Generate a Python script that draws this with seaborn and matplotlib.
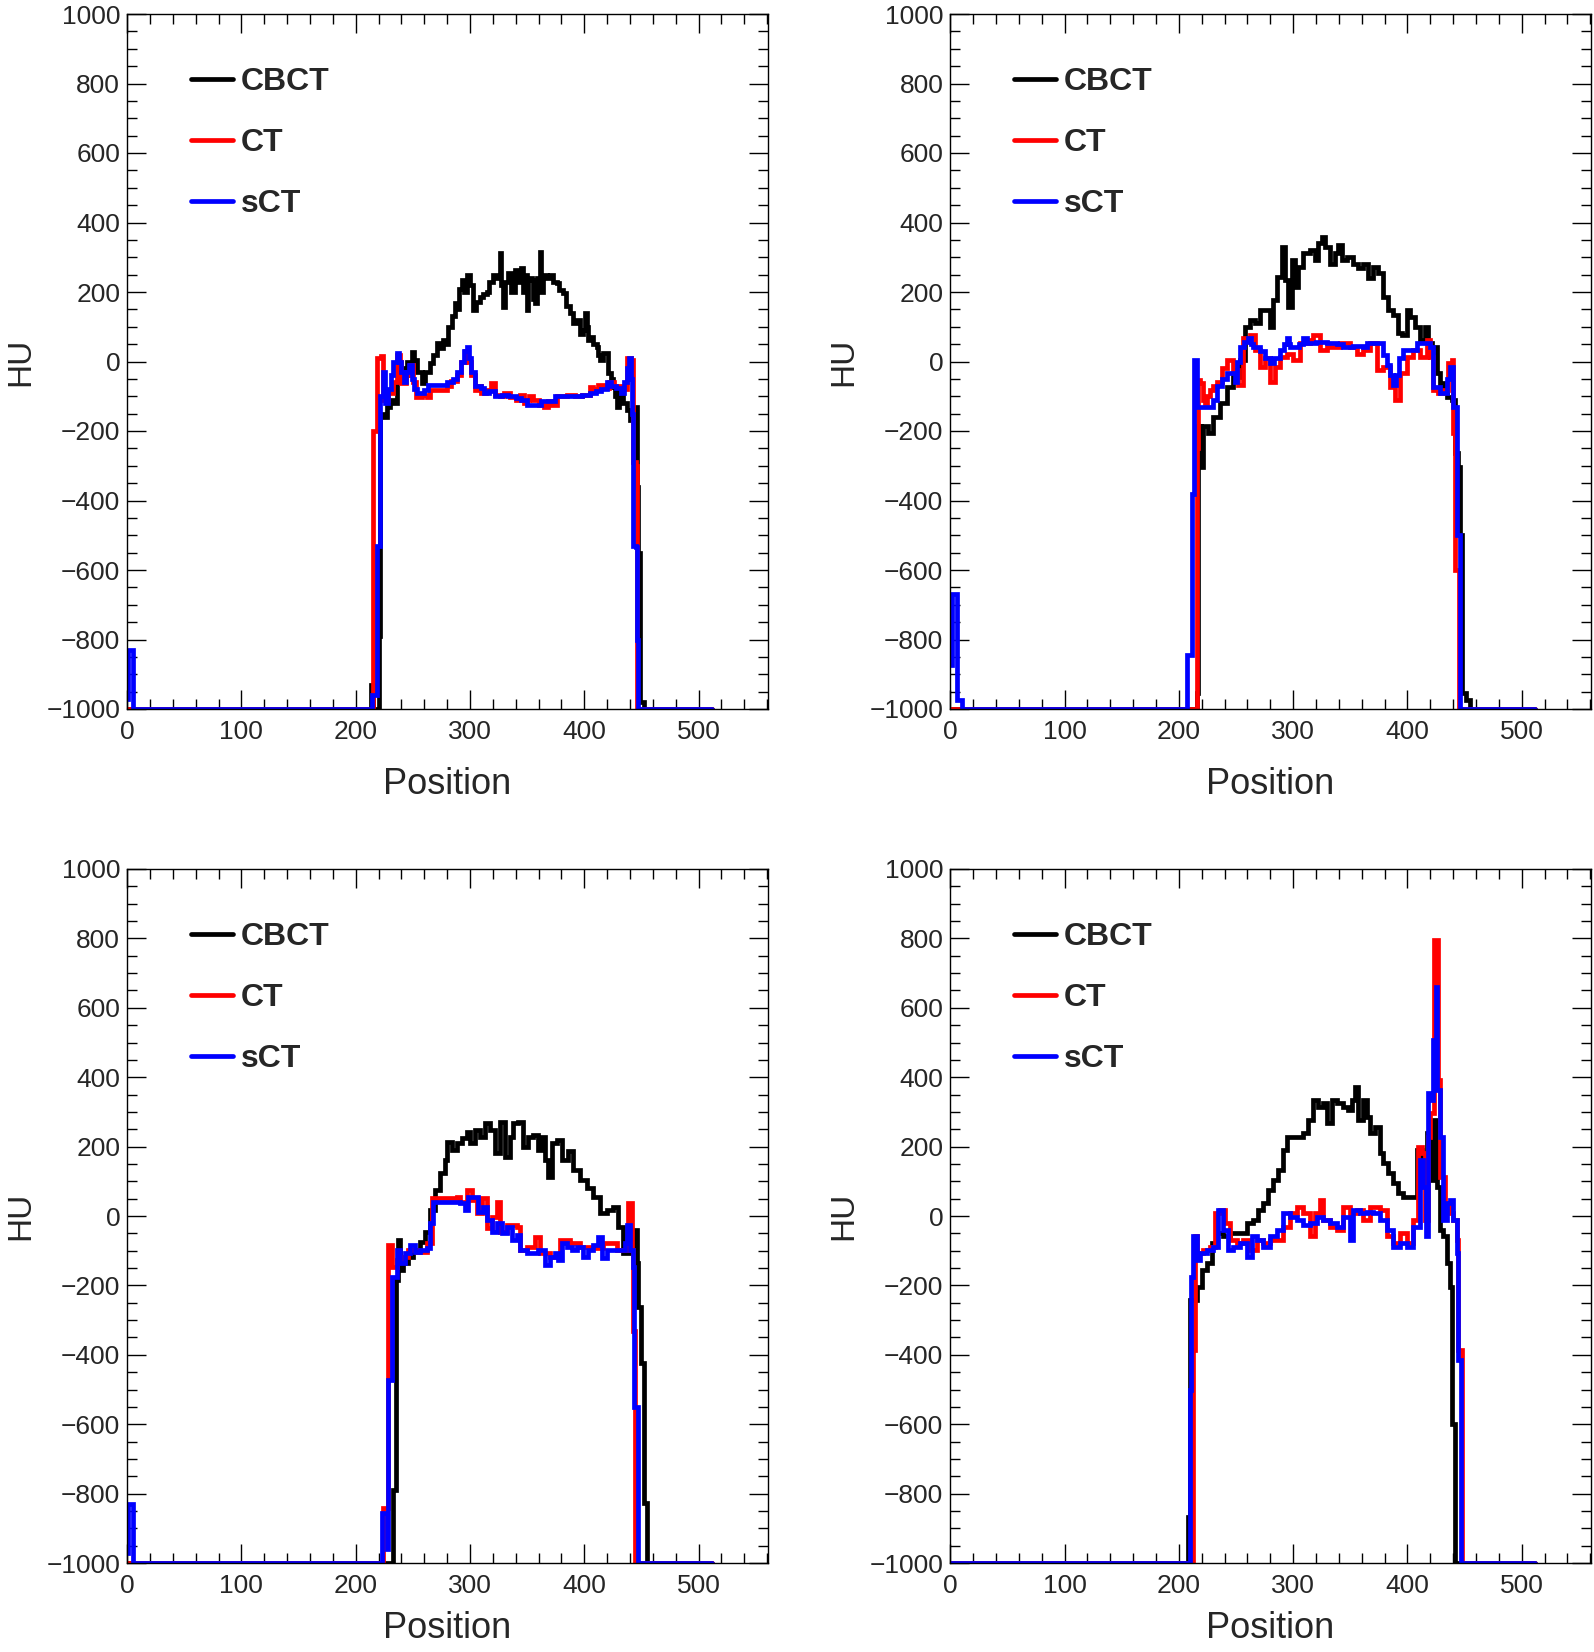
import matplotlib
matplotlib.use("Agg")
import matplotlib.pyplot as plt
import numpy as np
import pandas as pd
import seaborn as sns
from matplotlib.ticker import MultipleLocator

# ---- data: (position, HU) step points ----
TL_CBCT = [(0, -1000), (213.5, -930), (215, -1000), (220.5, -790), (221.5, -150), (224.2, -160),
           (227, -130), (230, -111), (233, -120), (235.8, -60), (238, -20), (241.7, -40), (245, 0),
           (249, 28), (251, 5), (253.3, -30), (257.7, -63), (261, -30), (265, -3), (268, 20),
           (270.8, 52), (274, 40), (276.7, 62), (279, 50), (281, 100), (284, 130), (286.9, 167),
           (289, 150), (290.5, 210), (292.7, 234), (295, 200), (297.1, 249), (300, 220),
           (302.9, 148), (305, 170), (308.7, 187), (311, 195), (314.6, 201), (317, 230),
           (320.4, 249), (323, 240), (326.2, 311), (327.5, 220), (329.2, 158), (331, 230),
           (333.5, 254), (336, 200), (339.4, 263), (341, 230), (343.7, 234), (345, 268),
           (346.6, 200), (348, 250), (349.6, 148), (351, 240), (353.9, 234), (355, 180),
           (356.9, 167), (359, 240), (361.2, 316), (362.5, 200), (364.1, 250), (367, 240),
           (370, 249), (373, 230), (375.8, 225), (378, 205), (381.6, 196), (384, 160),
           (387.5, 139), (390, 110), (393.3, 120), (396, 80), (399.1, 91), (400.5, 139),
           (402, 100), (403.5, 62), (405, 70), (408, 50), (410.8, 43), (412, 20), (413.7, 4),
           (416, 24), (418.1, 24), (421, -34), (423, -50), (425.4, -72), (427, -100),
           (428.3, -130), (430, -80), (431.2, -92), (434, -120), (437, -140), (440, -168),
           (442.9, -130), (445.8, -360), (447.3, -550), (448.5, -980), (452, -1000), (512, -1000)]
TL_CT = [(0, -1000), (215.4, -200), (218.3, 10), (222, 15), (224.2, -111), (228, -90), (233, -60),
         (236, 20), (238.5, 0), (240, -63), (244, -40), (247.5, -10), (250, -60), (253, -101),
         (258, -95), (262, -101), (265, -82), (280, -70), (283, -55), (289, -40), (292, 0),
         (295.6, 30), (298, 0), (300.5, -40), (304, -82), (308, -70), (310, -90), (314, -82),
         (318, -63), (322, -95), (326, -100), (330, -92), (335, -101), (340, -111), (344, -95),
         (347, -120), (350, -110), (352, -100), (355, -110), (360, -125), (365, -130),
         (368, -115), (372, -125), (376, -100), (385, -96), (392, -100), (398, -95), (405, -72),
         (408, -80), (412, -67), (417, -75), (422, -60), (426, -70), (430, -70), (434, -80),
         (437, 10), (441, 5), (443, -290), (445, -300), (446.5, -1000), (512, -1000)]
TL_SCT = [(0, -970), (1, -830), (5, -1000), (214, -960), (218.5, -530), (221.5, -100), (224, -30),
          (226, -120), (228, -80), (231, -40), (233, 0), (235.8, 25), (238, 0), (240, -30),
          (242, -60), (244, -30), (246.5, -10), (249, -50), (251, -80), (254, -90), (260, -82),
          (263, -67), (280, -60), (285, -50), (289, -30), (292, 0), (295, 30), (297, 43),
          (299, 10), (301, -30), (304, -70), (310, -75), (312, -90), (317, -85), (322, -100),
          (328, -95), (333, -100), (340, -105), (345, -110), (350, -125), (357, -125),
          (362, -115), (370, -115), (374, -100), (380, -100), (390, -100), (398, -95),
          (405, -90), (410, -85), (415, -80), (420, -60), (423, -70), (428, -75), (432, -90),
          (435, -60), (437, -20), (439, 10), (441, -50), (442, -150), (443, -530), (445, -533),
          (446, -800), (447, -1000), (512, -1000)]

TR_CBCT = [(0, -1000), (215.5, -955), (217, -187), (219, -303), (221.4, -187), (225.7, -207),
           (230.1, -159), (236, -120), (241.8, -72), (247.6, -44), (253.4, 4), (257.8, 100),
           (262.2, 119), (266.6, 110), (270.9, 148), (276.8, 148), (279.7, 100), (282.6, 177),
           (285.5, 244), (289.9, 330), (292.8, 234), (295.7, 158), (298.6, 292), (301.6, 215),
           (304.5, 273), (308.9, 311), (314.7, 321), (319.1, 292), (322, 340), (324.9, 359),
           (327.8, 330), (332.2, 282), (336.6, 311), (339.5, 335), (342.4, 292), (346.8, 302),
           (352.6, 282), (357, 268), (361.3, 282), (365.7, 239), (370.1, 273), (374.5, 254),
           (378.8, 186), (383.2, 148), (387.6, 134), (392, 81), (394.9, 76), (399.3, 148),
           (402.2, 129), (406.5, 100), (410.9, 62), (415.3, 100), (418.2, 52), (421.1, 43),
           (425.5, -34), (428.4, -72), (431.3, -63), (434.3, -101), (438.6, -111), (441.5, -264),
           (444.5, -303), (446, -500), (448, -955), (451, -974), (455, -1000), (512, -1000)]
TR_CT = [(0, -1000), (215.5, -250), (217, -53), (218.4, -63), (221.4, -111), (222.8, -120),
         (225, -100), (227.2, -82), (230, -70), (233, -58), (238, -20), (241.8, 4), (247.6, -25),
         (252, -68), (256.4, 67), (262.2, 76), (266.6, 33), (270.9, -15), (275.3, 9),
         (279.7, -58), (284.1, -15), (288.4, 14), (294.3, 23), (300.1, 4), (305.9, 52),
         (314.7, 62), (317.6, 76), (323.4, 33), (329.3, 43), (341, 52), (349.7, 43),
         (355.5, 23), (361.3, 33), (367.2, 52), (373, -25), (378.8, -15), (384.7, -72),
         (389, -111), (393.4, -34), (399.3, 14), (405.1, 33), (410.9, 14), (416.8, 62),
         (419.7, 14), (422.6, -82), (427, -91), (431.3, -82), (435.7, -5), (438.6, 4),
         (440.1, -207), (442, -600), (445, -1000), (512, -1000)]
TR_SCT = [(0, -873), (1.5, -670), (5.5, -975), (10, -1000), (206.8, -844), (211.5, -380),
          (213.5, 4), (215.5, -130), (230, -111), (233, -70), (238, -50), (241.8, -34),
          (249, -58), (251, 0), (253.4, 43), (257, 55), (260.7, 67), (263, 50), (265.1, 43),
          (271, 30), (275, 10), (279.7, -5), (283, 10), (288.4, 33), (292, 50), (294.3, 67),
          (296, 50), (297.2, 43), (305, 50), (308.9, 67), (311.8, 52), (320, 55), (330, 52),
          (338, 50), (344, 43), (352, 45), (361.3, 43), (364.3, 52), (376, 52), (379, 20),
          (382, -10), (385, -40), (387.6, -68), (390, -40), (393, 10), (396.3, 33), (405.1, 33),
          (408, 52), (416.8, 52), (419.7, 43), (422.6, -72), (428.4, -91), (434.3, -50),
          (437.2, -15), (440.1, -130), (443, -500), (446, -1000), (512, -1000)]

BL_CBCT = [(0, -1000), (232.9, -789), (235, -184), (237.3, -69), (238.7, -155), (241.7, -136),
           (246, -117), (250.4, -98), (256.2, -74), (260.6, -45), (265, 17), (269.4, 75),
           (273.7, 123), (278.1, 161), (279.6, 214), (284, 190), (288.3, 209), (292.7, 224),
           (297.1, 243), (300, 209), (304.4, 248), (308.7, 229), (313.1, 267), (317.5, 248),
           (321.9, 181), (326.2, 272), (330.6, 171), (335, 229), (337.9, 267), (342.3, 272),
           (346.6, 200), (351, 229), (355.4, 233), (359.8, 190), (362.7, 229), (365.6, 161),
           (368.5, 113), (371.4, 209), (375.8, 219), (380.2, 161), (386, 186), (390.4, 133),
           (396.2, 104), (402.1, 80), (407.9, 56), (413.7, 8), (419.6, 17), (425.4, 27),
           (429.8, -31), (434.1, -107), (440, -98), (442.9, -40), (445.8, -136), (447.3, -261),
           (450, -424), (452.5, -828), (454.5, -1000), (512, -1000)]
BL_CT = [(0, -1000), (224, -842), (228, -500), (228.5, -84), (231.5, -146), (235.8, -127),
         (240.2, -117), (246, -98), (253.3, -103), (262.1, -79), (266.4, 51), (288.3, 56),
         (291.2, 41), (297.1, 75), (301.4, 46), (305.8, 8), (310.2, 51), (314.6, -35),
         (318.9, -2), (323.3, 41), (326.2, -45), (332.1, -26), (340.8, -31), (343.7, -98),
         (349.6, -88), (356.9, -60), (361.2, -107), (370, -117), (378.7, -69), (387.5, -79),
         (396.2, -88), (405, -93), (416.6, -79), (428.3, -98), (438.5, 37), (441.4, -98),
         (442.9, -330), (444.3, -1000), (512, -1000)]
BL_SCT = [(0, -970), (1, -830), (5, -1000), (222.7, -857), (227, -960), (228.5, -472),
          (232, -175), (235.8, -98), (238.7, -136), (243.1, -107), (247.5, -84), (251.9, -103),
          (256.2, -98), (262.1, -93), (265, -21), (267.9, 41), (282.5, 41), (291.2, 37),
          (295.6, 17), (298.5, 56), (302.9, 56), (307.3, 12), (311.7, 27), (314.6, -12),
          (318.9, -45), (323.3, -21), (327.7, -50), (332.1, -31), (336.4, -69), (340.8, -55),
          (343.7, -98), (349.6, -107), (356.9, -107), (359.8, -98), (365.6, -141), (370, -117),
          (374.4, -107), (377.3, -127), (380.2, -79), (384.6, -88), (388.9, -98), (393.3, -88),
          (399.1, -117), (403.5, -98), (407.9, -84), (412.3, -60), (415.2, -122), (419.6, -98),
          (435.6, -79), (437.6, -26), (440, -98), (442.9, -146), (443.5, -549), (447, -1000),
          (512, -1000)]

BR_CBCT = [(0, -1000), (208.2, -866), (209.7, -242), (215.5, -204), (219.9, -155), (224.3, -136),
           (228.7, -79), (233, -50), (238.9, -59), (244.7, -50), (253.4, -50), (259.3, -21),
           (265.1, -11), (269.5, 17), (273.9, 37), (278.2, 75), (282.6, 104), (287, 133),
           (291.4, 190), (294.3, 229), (308.9, 238), (313.2, 277), (317.6, 334), (322, 315),
           (326.4, 325), (329.3, 267), (333.6, 334), (338, 325), (343.8, 315), (348.2, 306),
           (351.1, 334), (354, 373), (357, 277), (361.3, 334), (364.3, 286), (367.2, 238),
           (371.6, 257), (375.9, 181), (378.8, 152), (383.2, 123), (387.6, 94), (392, 65),
           (396.3, 56), (405.1, 56), (408, 190), (412.4, 161), (416.8, 238), (419.7, 104),
           (422.6, 277), (425.5, 85), (428.4, -40), (431.3, -59), (434.3, -136), (437.2, -204),
           (438.6, -600), (441.5, -1000), (512, -1000)]
BR_CT = [(0, -1000), (212.6, -386), (214.1, -59), (215.5, -107), (221.4, -98), (227.2, -88),
         (231.6, 8), (236, 17), (240.3, -21), (244.7, -69), (250.5, -79), (256.4, -69),
         (262.2, -98), (268, -69), (273.9, -79), (279.7, -69), (285.5, -69), (291.4, -31),
         (297.2, 8), (303, 27), (308.9, 8), (314.7, -59), (319.1, 8), (323.4, 46), (326.4, -11),
         (332.2, -31), (338, -40), (343.8, 27), (349.7, 8), (355.5, 17), (361.3, -11),
         (367.2, 27), (375.9, 17), (381.8, -59), (387.6, -79), (393.4, -50), (399.3, -79),
         (405.1, -11), (409.5, 200), (412.4, 181), (415.3, -11), (418.2, 229), (419.7, 296),
         (423, 795), (427, 392), (428.9, 113), (432.8, 27), (437.2, 8), (440.1, -11),
         (443, -69), (444.5, -386), (447.4, -1000), (512, -1000)]
BR_SCT = [(0, -1000), (209.7, -500), (211, -175), (212.6, -59), (215.5, -127), (218.4, -107),
          (224.3, -98), (230.1, -88), (234.5, 17), (238.9, -40), (243.2, -98), (247.6, -88),
          (253.4, -79), (259.3, -117), (263.6, -59), (268, -69), (273.9, -88), (279.7, -59),
          (285.5, -40), (291.4, 8), (297.2, -2), (303, -11), (308.9, -26), (314.7, -21),
          (320.5, -2), (326.4, -11), (332.2, -21), (338, -31), (343.8, -2), (349.7, -69),
          (352.6, 17), (358.4, 8), (364.3, 12), (370.1, 8), (375.9, -11), (381.8, -40),
          (387.6, -88), (393.4, -79), (399.3, -88), (405.1, -31), (410.9, 161), (413.8, 85),
          (416.2, -59), (418.2, 354), (421.1, 334), (422.6, 507), (424.6, 661), (426.1, 363),
          (428.4, 229), (431.3, -11), (434.3, 37), (437.2, 46), (440.1, -11), (443, -107),
          (444.5, -415), (446.5, -1000), (512, -1000)]

SERIES = ["CBCT", "CT", "sCT"]
COLORS = {"CBCT": "#000000", "CT": "#ff0000", "sCT": "#0000ff"}
PANELS = [
    {"CBCT": TL_CBCT, "CT": TL_CT, "sCT": TL_SCT},
    {"CBCT": TR_CBCT, "CT": TR_CT, "sCT": TR_SCT},
    {"CBCT": BL_CBCT, "CT": BL_CT, "sCT": BL_SCT},
    {"CBCT": BR_CBCT, "CT": BR_CT, "sCT": BR_SCT},
]

# axes rectangles in figure fractions (figure is 1594 x 1652 px)
W, H = 1594, 1652
RECTS = [
    (127.1 / W, 1 - 709 / H, 640.6 / W, 695 / H),
    (950.3 / W, 1 - 709 / H, 640.6 / W, 695 / H),
    (127.1 / W, 1 - 1563 / H, 640.6 / W, 694 / H),
    (950.3 / W, 1 - 1563 / H, 640.6 / W, 694 / H),
]
XLABEL_Y = [-0.083, -0.083, -0.069, -0.069]

sns.set_theme(style="white")
plt.rcParams["font.family"] = ["Liberation Sans", "DejaVu Sans"]
plt.rcParams["axes.unicode_minus"] = True

fig = plt.figure(figsize=(W / 100, H / 100), dpi=100)

for rect, panel, label_y in zip(RECTS, PANELS, XLABEL_Y):
    ax = fig.add_axes(rect)
    for name in SERIES:
        pts = np.array(panel[name], dtype=float)
        df = pd.DataFrame({"Position": pts[:, 0], "HU": pts[:, 1]})
        sns.lineplot(data=df, x="Position", y="HU", ax=ax, color=COLORS[name],
                     drawstyle="steps-post", lw=3.4, estimator=None, sort=False,
                     label=name, solid_joinstyle="miter")

    ax.set_xlim(0, 560.5)
    ax.set_ylim(-1000, 1000)
    ax.xaxis.set_major_locator(MultipleLocator(100))
    ax.xaxis.set_minor_locator(MultipleLocator(20))
    ax.yaxis.set_major_locator(MultipleLocator(200))
    ax.yaxis.set_minor_locator(MultipleLocator(50))
    ax.tick_params(which="both", direction="in", top=True, right=True, bottom=True, left=True,
                   width=1.0, color="black")
    ax.tick_params(which="major", length=14, labelsize=19)
    ax.tick_params(which="minor", length=7)
    ax.tick_params(axis="x", pad=8)
    ax.tick_params(axis="y", pad=5)
    for sp in ax.spines.values():
        sp.set_color("black")
        sp.set_linewidth(1.0)

    ax.set_xlabel("Position", fontsize=26)
    ax.set_ylabel("HU", fontsize=24)
    ax.xaxis.set_label_coords(0.5, label_y)
    ax.yaxis.set_label_coords(-0.142, 0.5)

    ax.legend(loc="upper left", bbox_to_anchor=(0.0993, 0.924), frameon=False,
              prop={"weight": "bold", "size": 23}, handlelength=1.32, handletextpad=0.25,
              labelspacing=0.98, borderpad=0, borderaxespad=0)
    for line in ax.get_legend().get_lines():
        line.set_linewidth(3.4)

fig.savefig("out.png", dpi=100)
